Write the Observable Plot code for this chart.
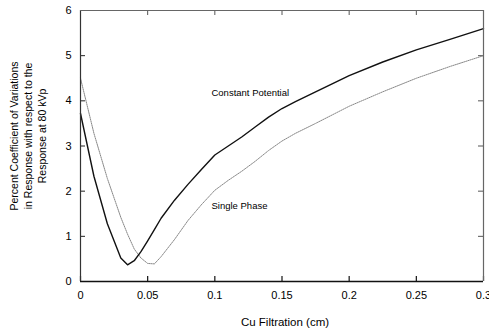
<!DOCTYPE html>
<html>
<head>
<meta charset="utf-8">
<script src="https://cdn.jsdelivr.net/npm/d3@7"></script>
<script src="https://cdn.jsdelivr.net/npm/@observablehq/plot@0.6"></script>
<style>
  html, body { margin: 0; padding: 0; background: #fff; }
  #chart svg { display: block; }
</style>
</head>
<body>
<div id="chart"></div>
<script>
// Data
const filtration = [0, 0.01, 0.02, 0.03, 0.035, 0.04, 0.045, 0.05, 0.055, 0.06, 0.07, 0.08, 0.09, 0.1, 0.11, 0.12, 0.13, 0.14, 0.15, 0.16, 0.175, 0.2, 0.225, 0.25, 0.275, 0.3];
const constantPotential = [3.72, 2.33, 1.28, 0.52, 0.37, 0.46, 0.66, 0.90, 1.15, 1.40, 1.80, 2.15, 2.48, 2.80, 3.00, 3.20, 3.42, 3.64, 3.83, 3.98, 4.20, 4.56, 4.86, 5.13, 5.36, 5.60];
const singlePhase = [4.50, 3.28, 2.28, 1.42, 1.05, 0.72, 0.52, 0.40, 0.39, 0.55, 0.93, 1.35, 1.70, 2.02, 2.24, 2.44, 2.66, 2.90, 3.11, 3.28, 3.50, 3.88, 4.20, 4.50, 4.76, 5.00];
const xTicks = [0, 0.05, 0.1, 0.15, 0.2, 0.25, 0.3];
const yTicks = [0, 1, 2, 3, 4, 5, 6];
const seriesLabels = ["Constant Potential", "Single Phase"];
const labelX = [0.0975, 0.0975];
const labelY = [4.18, 1.67];
const xTitle = "Cu Filtration (cm)";
const yTitle = "Percent Coefficient of Variations\nin Response with respect to the\nResponse at 80 kVp";

const cp = filtration.map((x, i) => ({x, y: constantPotential[i]}));
const sp = filtration.map((x, i) => ({x, y: singlePhase[i]}));
const labels = seriesLabels.map((t, i) => ({t, x: labelX[i], y: labelY[i]}));

const W = 489, H = 336, mL = 80, mR = 6, mT = 10, mB = 55, tickPx = 5;
const xDom = [0, 0.3], yDom = [0, 6];
// inward tick length expressed in each scale's units
const tx = (xDom[1] - xDom[0]) * tickPx / (W - mL - mR);
const ty = (yDom[1] - yDom[0]) * tickPx / (H - mT - mB);

const chart = Plot.plot({
  width: W,
  height: H,
  marginLeft: mL,
  marginRight: mR,
  marginTop: mT,
  marginBottom: mB,
  style: {fontFamily: "'Liberation Sans', Arial, sans-serif", fontSize: "11px", background: "#fff", color: "#000"},
  x: {domain: xDom},
  y: {domain: yDom},
  marks: [
    Plot.axisX({anchor: "bottom", ticks: xTicks, tickSize: 0, tickPadding: 10, tickFormat: d => String(d), label: null, fontSize: 11}),
    Plot.axisY({anchor: "left", ticks: yTicks, tickSize: 0, tickPadding: 9, tickFormat: d => String(d), label: null, fontSize: 11}),
    // inward ticks on all four sides
    Plot.ruleX(xTicks, {x: d => d, y1: yDom[0], y2: yDom[0] + ty, stroke: "#111", strokeWidth: 1.2}),
    Plot.ruleX(xTicks, {x: d => d, y1: yDom[1], y2: yDom[1] - ty, stroke: "#555", strokeWidth: 1}),
    Plot.ruleY(yTicks, {y: d => d, x1: xDom[0], x2: xDom[0] + tx, stroke: "#222", strokeWidth: 1}),
    Plot.ruleY(yTicks, {y: d => d, x1: xDom[1], x2: xDom[1] - tx, stroke: "#555", strokeWidth: 1}),
    Plot.line(sp, {x: "x", y: "y", stroke: "#888", strokeWidth: 1, strokeDasharray: "1.2,1"}),
    Plot.line(cp, {x: "x", y: "y", stroke: "#111", strokeWidth: 1.4}),
    Plot.ruleY([0], {stroke: "#111", strokeWidth: 1.4}),
    Plot.ruleX([0], {stroke: "#333", strokeWidth: 1.2}),
    Plot.ruleY([6], {stroke: "#666", strokeWidth: 1.2}),
    Plot.ruleX([0.3], {stroke: "#666", strokeWidth: 1.2}),
    Plot.text(labels, {x: "x", y: "y", text: "t", textAnchor: "start", fontSize: 9.5, fill: "#000"}),
    Plot.text([xTitle], {text: d => d, frameAnchor: "bottom", dy: 44, dx: 3, fontSize: 11.5, fill: "#000"}),
    Plot.text([yTitle], {text: d => d, frameAnchor: "left", rotate: -90, dx: -53, dy: -10, fontSize: 10.5, lineHeight: 1.35, textAnchor: "middle", lineAnchor: "middle", fill: "#000"})
  ]
});
document.getElementById("chart").appendChild(chart);
</script>
</body>
</html>
